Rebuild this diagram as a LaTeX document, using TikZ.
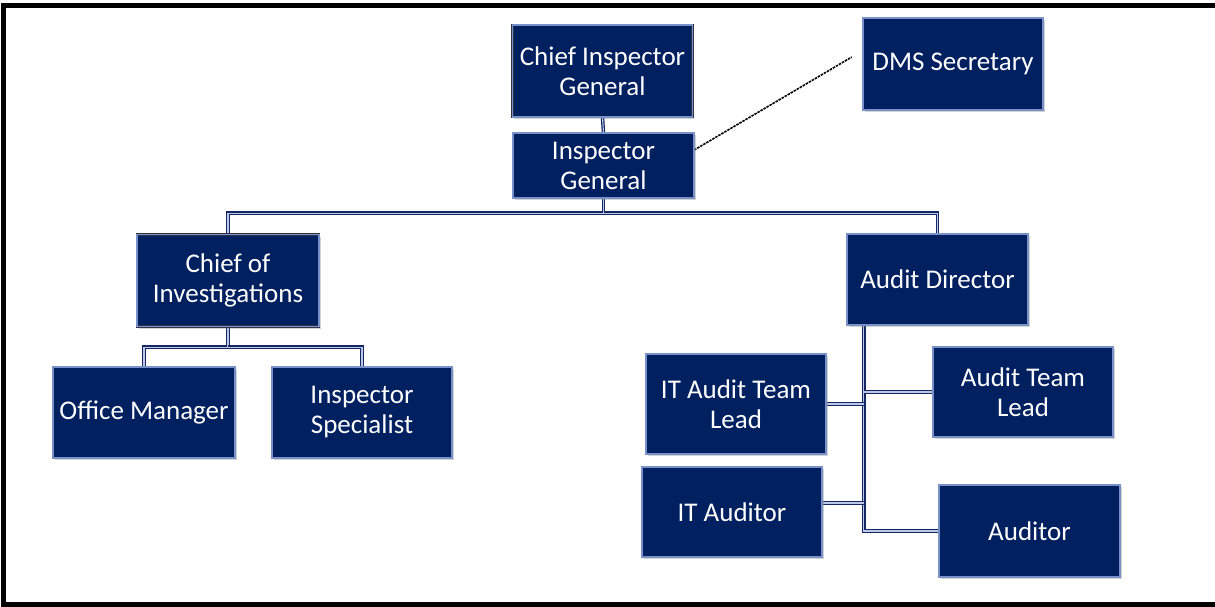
\documentclass[tikz,border=0pt]{standalone}
\usepackage{fontspec}
\setmainfont{Carlito}
\usetikzlibrary{calc,shadows}
\definecolor{boxblue}{RGB}{0,32,96}
\definecolor{bevel}{RGB}{120,145,200}
\definecolor{edge}{RGB}{45,50,70}
\definecolor{linkblue}{RGB}{20,40,100}
\definecolor{linklight}{RGB}{190,200,230}
\begin{document}
\begin{tikzpicture}[x=1pt,y=-1pt,
  orgbox/.style={rectangle, fill=boxblue, draw=edge, line width=0.7pt,
    double=bevel, double distance=1.4pt, inner sep=0pt, align=center,
    text=white, font=\fontsize{27}{30}\selectfont,
    drop shadow={shadow xshift=1.5pt, shadow yshift=-2pt, opacity=0.35}},
  ghost/.style={rectangle, inner sep=0pt},
  conn/.style={draw=linkblue, double=linklight, double distance=1.1pt, line width=1.2pt},
  dotline/.style={draw=black, line width=1.6pt, dash pattern=on 2.5pt off 1pt}]
\useasboundingbox (0,0) rectangle (1215,607);
\draw[line width=5.5pt] (1216,5.5) -- (3.5,5.5) -- (3.5,605) -- (1216,605);

% positions
\path
  (602.5,71) coordinate (pcig)
  (603.5,165.5) coordinate (pig)
  (953,64) coordinate (pdms)
  (228,279) coordinate (pcoi)
  (937.5,279.5) coordinate (pad)
  (144,412.5) coordinate (pom)
  (362,412.5) coordinate (pis)
  (736,404) coordinate (pitl)
  (1023,392) coordinate (patl)
  (732,512) coordinate (pita)
  (1029.5,531) coordinate (paud);

% invisible frames used to route connectors
\node[ghost, minimum width=180pt, minimum height=92pt] (cig0) at (pcig) {};
\node[ghost, minimum width=181pt, minimum height=65pt] (ig0) at (pig) {};
\node[ghost, minimum width=180pt, minimum height=92pt] (dms0) at (pdms) {};
\node[ghost, minimum width=182pt, minimum height=92pt] (coi0) at (pcoi) {};
\node[ghost, minimum width=181pt, minimum height=91pt] (ad0) at (pad) {};
\node[ghost, minimum width=182pt, minimum height=91pt] (om0) at (pom) {};
\node[ghost, minimum width=180pt, minimum height=91pt] (is0) at (pis) {};
\node[ghost, minimum width=180pt, minimum height=100pt] (itl0) at (pitl) {};
\node[ghost, minimum width=180pt, minimum height=90pt] (atl0) at (patl) {};
\node[ghost, minimum width=180pt, minimum height=90pt] (ita0) at (pita) {};
\node[ghost, minimum width=181pt, minimum height=92pt] (aud0) at (paud) {};

\coordinate (bus1) at ($(ig0.south)+(0,15)$);
\coordinate (bus2) at ($(coi0.south)+(0,22)$);
\coordinate (adleg) at ($(ad0.south west)+(17,0)$);
\coordinate (adend) at (adleg |- aud0.west);
\coordinate (dotA) at ($(ig0.east)+(0,-15.5)$);
\coordinate (dotB) at ($(dms0.west)+(-11,-7)$);

\draw[conn] (cig0.south) -- (ig0.north);
\draw[conn] (ig0.south) -- (bus1) -| (coi0.north);
\draw[conn] (bus1) -| (ad0.north);
\draw[conn] (coi0.south) -- (bus2) -| (om0.north);
\draw[conn] (bus2) -| (is0.north);
\draw[conn] (adleg) -- (adend) -- (aud0.west);
\draw[conn] (itl0.east) -- (itl0.east -| adleg);
\draw[conn] (atl0.west) -- (atl0.west -| adleg);
\draw[conn] ($(ita0.east)+(0,-9)$) -- ($(ita0.east -| adleg)+(0,-9)$);
\draw[dotline] (dotA) -- (dotB);

% visible boxes
\node[orgbox, minimum width=180pt, minimum height=92pt] (cig) at (pcig) {Chief Inspector\\General};
\node[orgbox, minimum width=181pt, minimum height=65pt] (ig) at (pig) {Inspector\\General};
\node[orgbox, minimum width=180pt, minimum height=92pt] (dms) at (pdms) {DMS Secretary};
\node[orgbox, minimum width=182pt, minimum height=92pt] (coi) at ($(pcoi)+(0,1.5)$) {Chief of\\Investigations};
\node[orgbox, minimum width=181pt, minimum height=91pt] (ad) at (pad) {Audit Director};
\node[orgbox, minimum width=182pt, minimum height=91pt] (om) at (pom) {Office Manager};
\node[orgbox, minimum width=180pt, minimum height=91pt] (is) at (pis) {Inspector\\Specialist};
\node[orgbox, minimum width=180pt, minimum height=100pt] (itl) at (pitl) {IT Audit Team\\Lead};
\node[orgbox, minimum width=180pt, minimum height=90pt] (atl) at (patl) {Audit Team\\Lead};
\node[orgbox, minimum width=180pt, minimum height=90pt] (ita) at (pita) {IT Auditor};
\node[orgbox, minimum width=181pt, minimum height=92pt] (aud) at (paud) {Auditor};
\end{tikzpicture}
\end{document}
